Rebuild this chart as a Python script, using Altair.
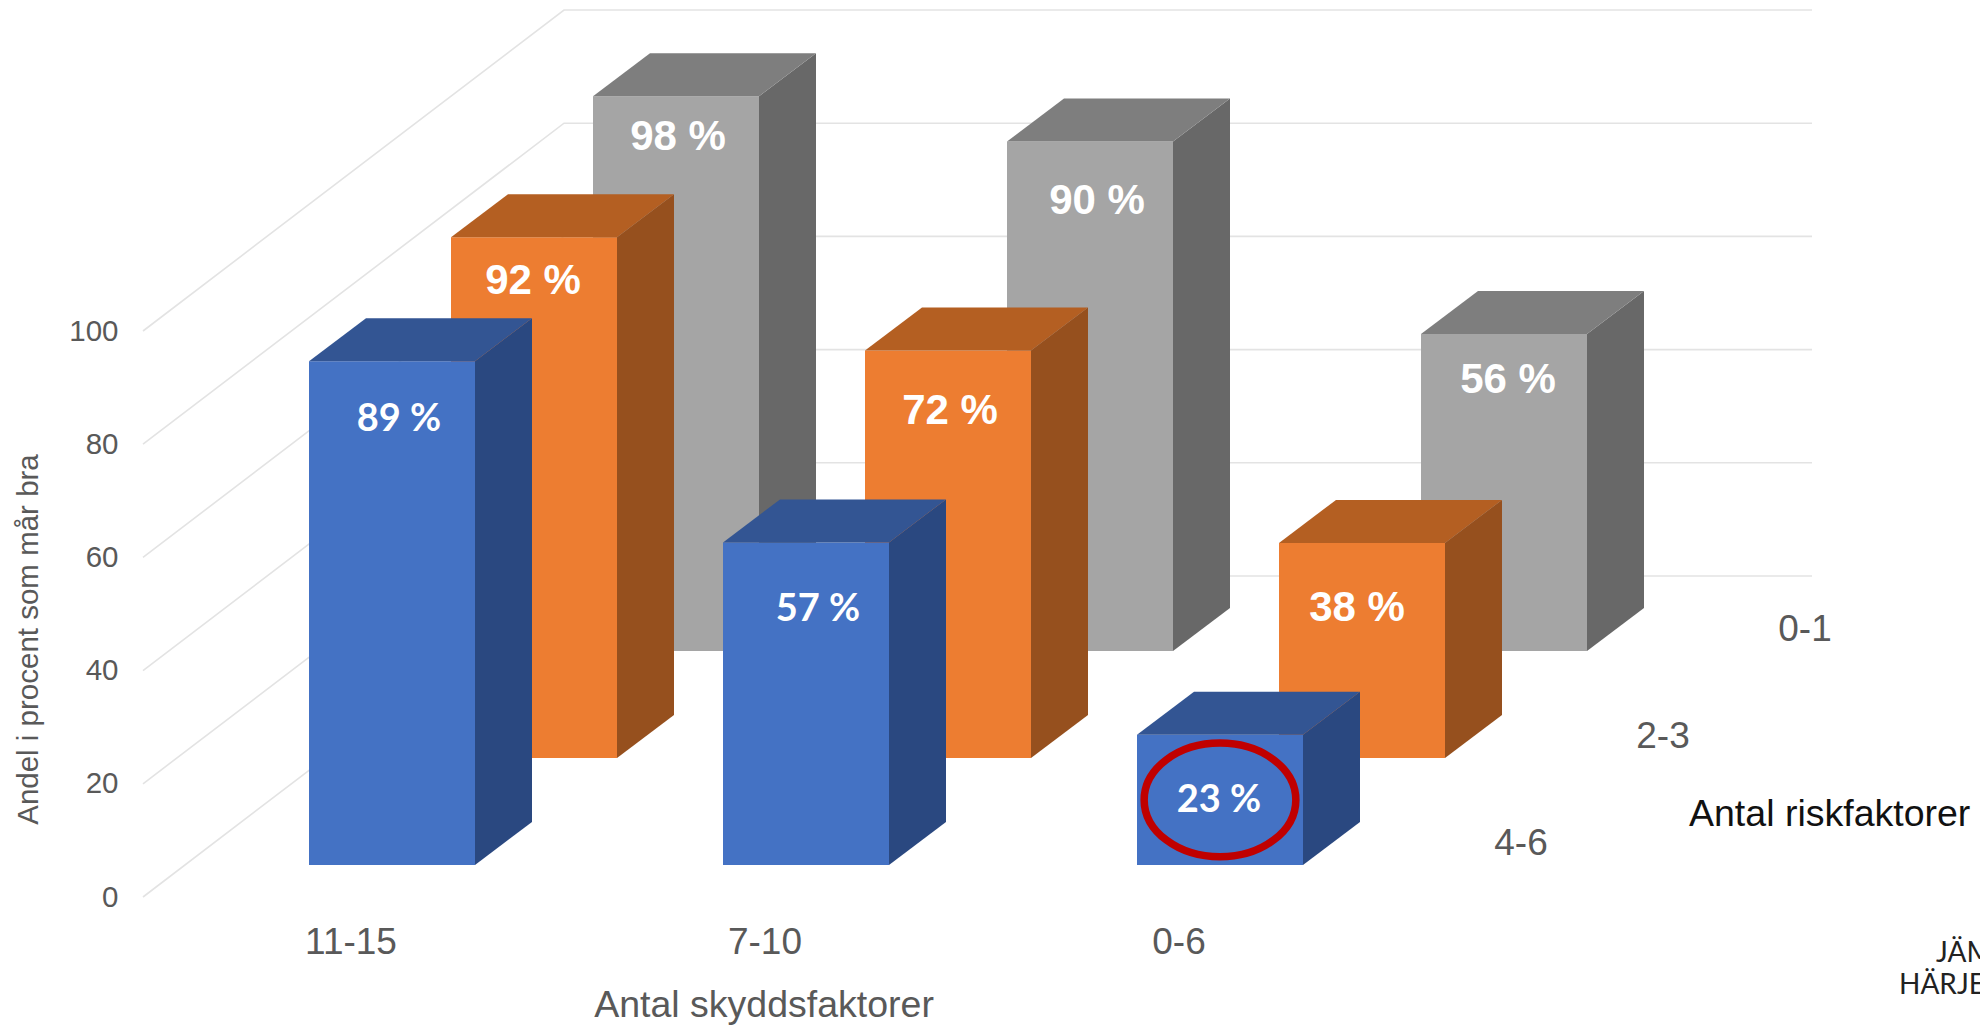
import altair as alt
import pandas as pd

# Share of pupils feeling well, by protective factors (columns) and risk factors (rows)
protective = ["11-15", "7-10", "0-6"]
risk = ["4-6", "2-3", "0-1"]
values_4_6 = [89, 57, 23]
values_2_3 = [92, 72, 38]
values_0_1 = [98, 90, 56]
series = [values_4_6, values_2_3, values_0_1]
y_ticks = [0, 20, 40, 60, 80, 100]

front_colors = ["#4472C4", "#ED7D31", "#A5A5A5"]
top_colors = ["#335593", "#B45F22", "#7E7E7E"]
side_colors = ["#2A4880", "#96501E", "#686868"]
grey_text = "#595959"

# Oblique projection, expressed in pixels per data unit of the two scales
LEFT_PAD = 125
PX_X = 414.0            # pixels per column slot
PX_Y = 5.66             # pixels per percentage point
PLOT_W, PLOT_H = 1980 - LEFT_PAD, 1025
ZERO_PX = 897

def ux(px):
    return px / PX_X

def uy(px):
    return px / PX_Y

ROW_DX, ROW_DY = ux(142), uy(107)
DEPTH_DX, DEPTH_DY = ux(57), uy(43)
BAR_W = ux(166)
FIRST_X = ux(309 - LEFT_PAD)
BASE_Y = uy(32)

x_scale = alt.Scale(domain=[0, PLOT_W / PX_X], nice=False, zero=False)
y_scale = alt.Scale(domain=[(ZERO_PX - PLOT_H) / PX_Y, ZERO_PX / PX_Y], nice=False, zero=False)

# Every layer carries the same axis definition so that the layered chart keeps it
y_axis = alt.Axis(
    values=y_ticks, grid=False, domain=False, ticks=False, labelFontSize=29.5, labelColor=grey_text,
    labelFont="Liberation Sans", labelPadding=7, titleFont="Liberation Sans", titleFontSize=29.5,
    titleFontWeight="normal", titleColor=grey_text, titleX=43 - LEFT_PAD, titleY=639,
)
Y_TITLE = "Andel i procent som mår bra"
X = lambda f: alt.X(f, type="quantitative", scale=x_scale, axis=None, title=None)
Y = lambda f: alt.Y(f, type="quantitative", scale=y_scale, axis=y_axis, title=Y_TITLE)

# Hand-placed label offsets (px right, px below the bar top) per row and column
label_nudge = [
    [(7, 59), (12, 68), (-1, 66)],
    [(-1, 44), (2, 61), (-5, 65)],
    [(2, 41), (7, 59), (4, 46)],
]


def bar_layers(row):
    front, side, top, labels = [], [], [], []
    for col, value in enumerate(series[row]):
        left = FIRST_X + col + row * ROW_DX
        right = left + BAR_W
        base = BASE_Y + row * ROW_DY
        peak = base + value
        front.append(dict(x=left, x2=right, y=base, y2=peak))
        side.append(dict(bar=col, x=right, y=peak, y2=base))
        side.append(dict(bar=col, x=right + DEPTH_DX, y=peak + DEPTH_DY, y2=base + DEPTH_DY))
        top.append(dict(bar=col, x=left, x2=right, y=peak))
        top.append(dict(bar=col, x=left + DEPTH_DX, x2=right + DEPTH_DX, y=peak + DEPTH_DY))
        nx, ny = label_nudge[row][col]
        labels.append(dict(x=left + BAR_W / 2 + ux(nx), y=peak - uy(ny), label=f"{value} %"))

    font = "Lato" if row == 0 else "Liberation Sans"
    size = 38 if row == 0 else 42
    return [
        alt.Chart(pd.DataFrame(front)).mark_rect(color=front_colors[row]).encode(x=X("x"), x2="x2", y=Y("y"), y2="y2"),
        alt.Chart(pd.DataFrame(side)).mark_area(color=side_colors[row], orient="vertical").encode(
            x=X("x"), y=Y("y"), y2="y2", detail="bar:N"),
        alt.Chart(pd.DataFrame(top)).mark_area(color=top_colors[row], orient="horizontal").encode(
            y=Y("y"), x=X("x"), x2="x2", detail="bar:N"),
        alt.Chart(pd.DataFrame(labels)).mark_text(
            color="white", fontWeight="bold", font=font, fontSize=size, align="center", baseline="middle"
        ).encode(x=X("x"), y=Y("y"), text="label:N"),
    ]


def text_layer(rows, size, color=grey_text, font="Liberation Sans", align="center"):
    return alt.Chart(pd.DataFrame(rows)).mark_text(
        color=color, font=font, fontSize=size, align=align, baseline="middle", clip=False
    ).encode(x=X("x"), y=Y("y"), text="label:N")


# Floor-to-wall gridlines: diagonal along the side wall, then flat along the back wall
grid_rows = []
grid_left = ux(143 - LEFT_PAD)
for tick in y_ticks:
    grid_rows.append(dict(tick=tick, order=0, x=grid_left, y=tick))
    grid_rows.append(dict(tick=tick, order=1, x=grid_left + 3 * ROW_DX - ux(5), y=tick + 3 * ROW_DY))
    grid_rows.append(dict(tick=tick, order=2, x=ux(1812 - LEFT_PAD), y=tick + 3 * ROW_DY))

grid = alt.Chart(pd.DataFrame(grid_rows)).mark_line(color="#E3E3E3", strokeWidth=1.6).encode(
    x=X("x"),
    y=Y("y"),
    detail="tick:N",
    order="order:Q",
)

# Axis-like captions
column_labels = text_layer(
    [dict(x=ux(351 - LEFT_PAD) + i, y=uy(ZERO_PX - 943), label=name) for i, name in enumerate(protective)], 37
)
row_labels = text_layer(
    [dict(x=ux(1521 - LEFT_PAD) + i * ROW_DX, y=uy(ZERO_PX - 844) + i * ROW_DY, label=name) for i, name in enumerate(risk)],
    37,
)
column_title = text_layer([dict(x=ux(764 - LEFT_PAD), y=uy(ZERO_PX - 1006), label="Antal skyddsfaktorer")], 37.5)
row_title = text_layer(
    [dict(x=ux(1689 - LEFT_PAD), y=uy(ZERO_PX - 815), label="Antal riskfaktorer")], 37.5, color="#111111", align="left"
)
brand = alt.layer(
    text_layer([dict(x=ux(1936 - LEFT_PAD), y=uy(ZERO_PX - 954), label="JÄMTLAND")], 28, color="#222222", font="Lato", align="left"),
    text_layer([dict(x=ux(1899 - LEFT_PAD), y=uy(ZERO_PX - 986), label="HÄRJEDALEN")], 28, color="#222222", font="Lato", align="left"),
)

# Red ring around the lowest value
low_col = 2
low_left = FIRST_X + low_col
ring = alt.Chart(pd.DataFrame([dict(x=low_left + BAR_W / 2, y=BASE_Y + series[0][low_col] / 2)])).mark_point(
    shape="M-1,0 A1,0.75 0 1,1 1,0 A1,0.75 0 1,1 -1,0 Z",
    size=23000,
    filled=False,
    stroke="#C00000",
    strokeWidth=7.5,
    opacity=1,
).encode(x=X("x"), y=Y("y"))

layers = [grid]
for row in [2, 1, 0]:
    layers.extend(bar_layers(row))
layers.extend([ring, column_labels, row_labels, column_title, row_title, brand])

chart = (
    alt.layer(*layers)
    .properties(
        width=PLOT_W,
        height=PLOT_H,
        autosize=alt.AutoSizeParams(type="none"),
        padding={"left": LEFT_PAD, "top": 0, "right": 0, "bottom": 0},
        background="white",
    )
    .configure_view(stroke=None)
)

chart.save("out.html", embed_options={"renderer": "svg", "actions": False})
